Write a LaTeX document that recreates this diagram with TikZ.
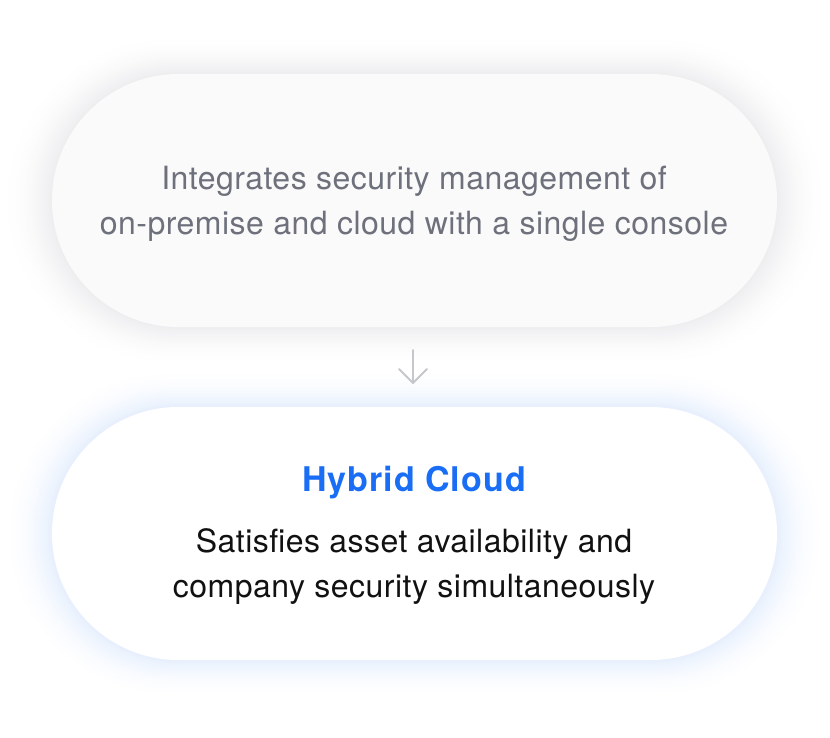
\documentclass[tikz,border=0pt]{standalone}
\usepackage{fontspec}
\setmainfont{TeX Gyre Heros}[LetterSpace=1.5]
\definecolor{topfill}{HTML}{FAFAFB}
\definecolor{toptext}{HTML}{6E717B}
\definecolor{titleblue}{HTML}{1A6EF5}
\definecolor{bodytext}{HTML}{111111}
\definecolor{shadowgray}{HTML}{EDEDEF}
\definecolor{glowblue}{HTML}{E6EFFD}
\definecolor{arrowgray}{HTML}{C6C7CC}
\tikzset{
  pilltext/.style={align=center, inner sep=0pt, anchor=base},
  toptextstyle/.style={pilltext, text=toptext, font=\fontsize{32}{45}\selectfont},
  bodytextstyle/.style={pilltext, text=bodytext, font=\fontsize{32}{45}\selectfont},
  arrowline/.style={draw=arrowgray, line width=2pt, line cap=round, line join=round}
}
\begin{document}
\begin{tikzpicture}[x=1pt,y=-1pt]
\useasboundingbox[fill=white] (0,0) rectangle (830,737);
% soft shadows (opaque layered gradients, vertical spread 40, horizontal 52)
\foreach \e [evaluate=\e as \p using {100*(1-\e/52)^2},
             evaluate=\e as \v using {\e*40/52}] in {52,50,...,2}{
  \fill[shadowgray!\p!white, rounded corners=126.5pt+\v pt]
    (52-\e,74-\v) rectangle (777+\e,327+\v);
  \fill[glowblue!\p!white, rounded corners=126.5pt+\v pt]
    (52-\e,407-\v) rectangle (777+\e,660+\v);
}
% pills
\fill[topfill, rounded corners=126.5pt] (52,74) rectangle (777,327);
\fill[white, rounded corners=126.5pt] (52,407) rectangle (777,660);
% texts
\node[toptextstyle] (top1) at (414,189) {Integrates security management of};
\node[toptextstyle] (top2) at (414,234) {on-premise and cloud with a single console};
\node[pilltext, text=titleblue, font=\fontsize{34}{40}\selectfont\bfseries\addfontfeature{LetterSpace=3}] (title) at (414,491) {Hybrid Cloud};
\node[bodytextstyle] (body1) at (414,552) {Satisfies asset availability and};
\node[bodytextstyle] (body2) at (414,597) {company security simultaneously};
% arrow
\coordinate (a1) at (413,350);
\coordinate (a2) at (413,383);
\draw[arrowline] (a1) -- (a2);
\draw[arrowline] (399,369) -- (a2) -- (427,369);
\end{tikzpicture}
\end{document}
